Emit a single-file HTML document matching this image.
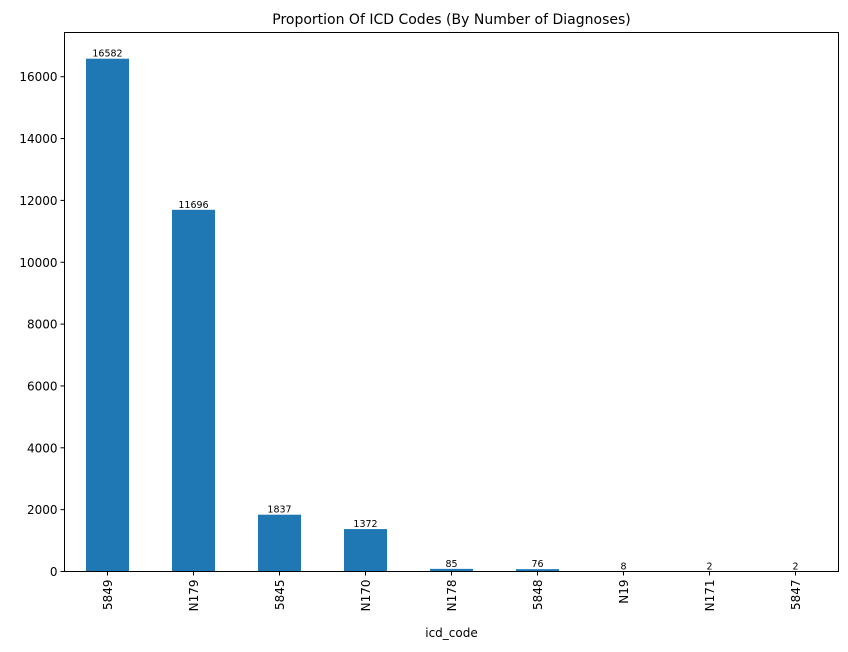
<!DOCTYPE html>
<html><head><meta charset="utf-8"><style>
body{margin:0;background:#fff;}
svg text{font-family:"DejaVu Sans","Liberation Sans",sans-serif;fill:#000;}
</style></head><body>
<svg id="c" width="848" height="647"></svg>
<script>
const categories=["5849","N179","5845","N170","N178","5848","N19","N171","5847"];
const counts=[16582,11696,1837,1372,85,76,8,2,2];
const yTicks=[0,2000,4000,6000,8000,10000,12000,14000,16000];
const L=64.5,R=838.5,T=32.5,B=571.5,Y16=76.7;
const ns="http://www.w3.org/2000/svg";
const svg=document.getElementById('c');
function y(v){return B-(B-Y16)*v/16000;}
const step=(R-L)/categories.length;
function x(i){return L+step*(i+0.5);}
function mk(t,a,txt){const e=document.createElementNS(ns,t);for(const k in a)e.setAttribute(k,a[k]);if(txt!==undefined)e.textContent=txt;svg.appendChild(e);return e;}
let e=mk('text',{x:(L+R)/2,y:24,'text-anchor':'middle','font-size':14},'Proportion Of ICD Codes (By Number of Diagnoses)');


categories.forEach((c,i)=>{
  const bw=step*0.5;
  let r=mk('rect',{x:x(i)-bw/2,y:y(counts[i]),width:bw,height:B-y(counts[i]),fill:'#1f77b4'});
  
  
  let t=mk('text',{x:x(i),y:y(counts[i])-2,'text-anchor':'middle','font-size':9.5},counts[i]);
  
  
  mk('line',{x1:x(i),x2:x(i),y1:B,y2:B+4,stroke:'#000','stroke-width':1});
  let xl=mk('text',{transform:`translate(${x(i)+4.5},${B+8}) rotate(-90)`,'text-anchor':'end','font-size':12},c);
  
  
});
yTicks.forEach(v=>{
  mk('line',{x1:L-4,x2:L,y1:y(v),y2:y(v),stroke:'#000','stroke-width':1});
  let t=mk('text',{x:L-7,y:y(v)+4.5,'text-anchor':'end','font-size':12},v);
  
  
});
let f=mk('rect',{x:L,y:T,width:R-L,height:B-T,fill:'none',stroke:'#000','stroke-width':1});


let xt=mk('text',{x:(L+R)/2,y:637,'text-anchor':'middle','font-size':12},'icd_code');


</script>
</body></html>
